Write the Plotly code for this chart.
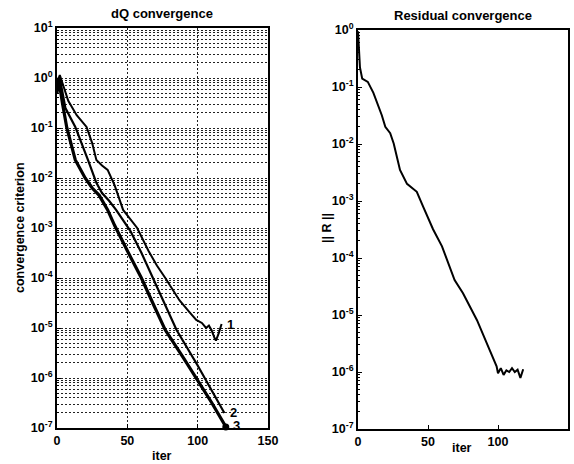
import math
import plotly.graph_objects as go

# ---- data ----
dq1_iter = [0, 2, 8, 14, 21, 25, 28, 32, 36, 41, 47, 57, 65, 71, 77, 87, 94, 99, 103, 106, 108, 110, 112, 113, 115, 117]
dq1_val = [0.8, 1.15, 0.35, 0.18, 0.105, 0.05, 0.023, 0.0178, 0.0145, 0.0071, 0.0023, 1.0e-3, 3.5e-4, 1.78e-4, 1.0e-4, 3.6e-5, 2.1e-5, 1.45e-5, 1.26e-5, 1.0e-5, 1.12e-5, 8.9e-6, 6.3e-6, 5.6e-6, 7.9e-6, 1.2e-5]

dq2_iter = [0, 2, 6, 13, 22, 28, 32, 37, 42, 52, 60, 68, 85, 100, 110, 119]
dq2_val = [0.7, 1.0, 0.25, 0.105, 0.023, 0.008, 0.005, 0.0035, 0.0023, 8.9e-4, 3.2e-4, 1.0e-4, 9.1e-6, 1.78e-6, 5.6e-7, 2.0e-7]

dq3_iter = [0, 1, 4, 7, 13, 20, 25, 30, 36, 41, 50, 60, 68, 77, 90, 100, 110, 121]
dq3_val = [0.5, 1.0, 0.3, 0.1, 0.023, 0.01, 0.0063, 0.0045, 0.0023, 0.00112, 3.5e-4, 1.0e-4, 3.2e-5, 9.1e-6, 2.5e-6, 8.9e-7, 3.2e-7, 9.5e-8]

res_iter = [0, 1.4, 3, 7, 11, 17, 19.5, 23, 25.5, 30, 35, 39.5, 42, 46.6, 53.6, 60, 69, 75, 85, 94, 99, 100, 102, 104, 106, 108, 110, 112, 114, 116, 118]
res_val = [0.95, 0.22, 0.14, 0.123, 0.079, 0.032, 0.02, 0.0155, 0.0102, 0.0035, 0.002, 0.00166, 0.00145, 7.9e-4, 3.2e-4, 1.6e-4, 4.1e-5, 2.4e-5, 8.1e-6, 2.45e-6, 1.26e-6, 9.5e-7, 1.17e-6, 8.9e-7, 1.07e-6, 1.0e-6, 1.17e-6, 1.0e-6, 1.1e-6, 7.9e-7, 1.12e-6]

curve_labels = ["1", "2", "3"]
x_ticks = [0, 50, 100, 150]
left_y_exp = [-7, -6, -5, -4, -3, -2, -1, 0, 1]
right_y_exp = [-7, -6, -5, -4, -3, -2, -1, 0]

FONT = "Liberation Sans"
W, H = 574, 464

def tick_text(exps):
    return ["10<sup>%d</sup>" % e for e in exps]

fig = go.Figure()
for xs, ys, w in [(dq1_iter, dq1_val, 2), (dq2_iter, dq2_val, 2.2), (dq3_iter, dq3_val, 3.2)]:
    fig.add_trace(go.Scatter(x=xs, y=ys, mode="lines", line=dict(color="black", width=w),
                             xaxis="x", yaxis="y", showlegend=False, hoverinfo="skip"))
fig.add_trace(go.Scatter(x=[dq3_iter[-1] - 1], y=[1.05e-7], mode="markers",
                         marker=dict(color="black", size=7), xaxis="x", yaxis="y",
                         showlegend=False, cliponaxis=False, hoverinfo="skip"))
fig.add_trace(go.Scatter(x=res_iter, y=res_val, mode="lines", line=dict(color="black", width=2),
                         xaxis="x2", yaxis="y2", showlegend=False, hoverinfo="skip"))

annotations = []
for lab, xs, ys in zip(curve_labels, [dq1_iter, dq2_iter, dq3_iter], [dq1_val, dq2_val, dq3_val]):
    yv = max(ys[-1], 1.1e-7)
    annotations.append(dict(x=xs[-1] + 2.5, y=math.log10(yv), xref="x", yref="y",
                            text=lab, showarrow=False, xanchor="left",
                            font=dict(family=FONT, size=13, color="#000000", weight="bold")))

def ann(text, x, y, size=12.5, angle=0):
    annotations.append(dict(x=x / W, y=1 - y / H, xref="paper", yref="paper", text=text,
                            showarrow=False, textangle=angle, xanchor="center", yanchor="middle",
                            font=dict(family=FONT, size=size, color="#000000", weight="bold")))

ann("dQ convergence", 162, 14, size=13)
ann("Residual convergence", 463, 15, size=13)
ann("iter", 162, 456)
ann("iter", 462, 448)
ann("convergence criterion", 20, 228, angle=-90)
ann("|| R ||", 327, 228, angle=-90)

axis_common = dict(showline=True, mirror=True, linecolor="black", linewidth=2,
                   ticks="inside", ticklen=4, tickcolor="black", zeroline=False,
                   automargin=False,
                   tickfont=dict(family=FONT, size=12.5, color="black", weight="bold"))

GRID = dict(gridcolor="#222222", griddash="2px,2px", gridwidth=1)

fig.update_layout(
    width=W, height=H,
    margin=dict(l=0, r=0, t=0, b=0, autoexpand=False),
    paper_bgcolor="white", plot_bgcolor="white",
    annotations=annotations,
    xaxis=dict(domain=[57 / W, 268 / W], range=[0, 150], tickvals=x_ticks,
               showgrid=True, anchor="y", **GRID, **axis_common),
    yaxis=dict(domain=[1 - 428 / H, 1 - 28 / H], type="log", range=[-7, 1],
               tickvals=[10 ** e for e in left_y_exp], ticktext=tick_text(left_y_exp),
               showgrid=True, **GRID,
               minor=dict(dtick="D1", showgrid=True, ticks="inside", ticklen=2,
                          tickcolor="black", **GRID),
               anchor="x", **axis_common),
    xaxis2=dict(domain=[358 / W, 568 / W], range=[0, 150], tickvals=x_ticks,
                showgrid=False, anchor="y2", **axis_common),
    yaxis2=dict(domain=[1 - 429 / H, 1 - 30 / H], type="log", range=[-7, 0],
                tickvals=[10 ** e for e in right_y_exp], ticktext=tick_text(right_y_exp),
                showgrid=False,
                minor=dict(dtick="D1", ticks="inside", ticklen=2, tickcolor="black"),
                anchor="x2", **axis_common),
)

fig.write_html("out.html", config={"displayModeBar": False},
               post_script="document.body.style.margin='0';document.body.style.overflow='hidden';")
